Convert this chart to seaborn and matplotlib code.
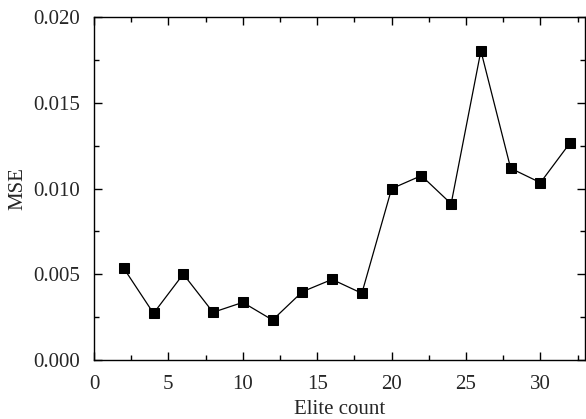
import matplotlib
matplotlib.use("Agg")
import matplotlib.pyplot as plt
from matplotlib.ticker import MultipleLocator
import seaborn as sns
import pandas as pd

elite_count = [2, 4, 6, 8, 10, 12, 14, 16, 18, 20, 22, 24, 26, 28, 30, 32]
mse = [0.00535, 0.00272, 0.00501, 0.00278, 0.00336, 0.00233, 0.00398, 0.00470,
       0.00389, 0.00999, 0.01075, 0.00911, 0.01803, 0.01118, 0.01034, 0.01267]
x_ticks = [0, 5, 10, 15, 20, 25, 30]
y_ticks = [0.000, 0.005, 0.010, 0.015, 0.020]

sns.set_style("ticks")
plt.rcParams["font.family"] = ["Liberation Serif", "DejaVu Serif"]

df = pd.DataFrame({"Elite count": elite_count, "MSE": mse})

fig = plt.figure(figsize=(5.86, 4.19), dpi=100)
ax = fig.add_axes([0.1604, 0.1408, 0.8380, 0.8186])

sns.lineplot(data=df, x="Elite count", y="MSE", ax=ax, color="black",
             linewidth=0.9, marker="s", markersize=7.8,
             markerfacecolor="black", markeredgecolor="black")

ax.set_xlim(0, 33)
ax.set_ylim(0, 0.020)
ax.set_xticks(x_ticks)
ax.set_yticks(y_ticks)
ax.set_yticklabels([f"{v:.3f}" for v in y_ticks])
ax.xaxis.set_minor_locator(MultipleLocator(2.5))
ax.yaxis.set_minor_locator(MultipleLocator(0.0025))

for s in ax.spines.values():
    s.set_visible(True)
    s.set_linewidth(1.0)
    s.set_color("black")

ax.tick_params(which="both", direction="in", top=True, right=True,
               labeltop=False, labelright=False, width=1.0, color="black")
ax.tick_params(which="major", length=5.5, labelsize=15)
ax.tick_params(axis="x", which="major", pad=11)
ax.tick_params(axis="y", which="major", pad=10)
ax.tick_params(which="minor", length=3.5)

ax.set_xlabel("Elite count", fontsize=15, labelpad=4)
ax.set_ylabel("MSE", fontsize=15, labelpad=4)

fig.savefig("out.png", dpi=100)
